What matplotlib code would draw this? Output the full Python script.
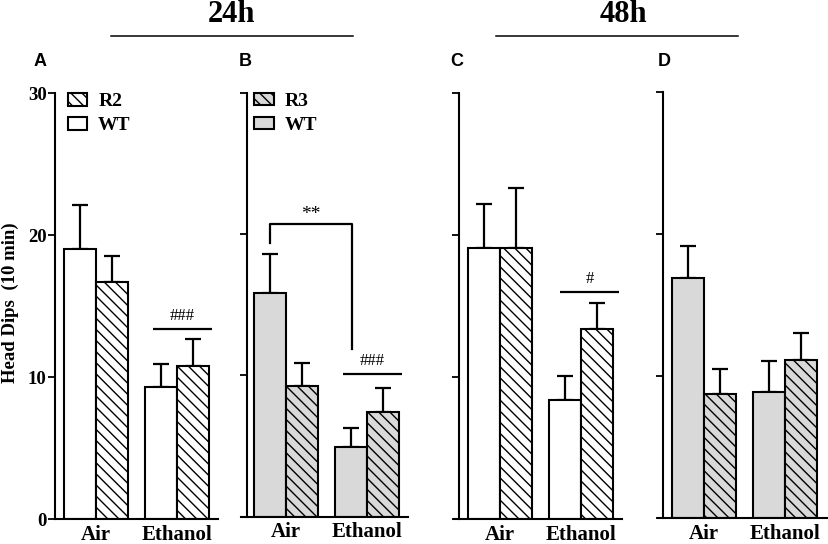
import matplotlib.pyplot as plt
from matplotlib.patches import Patch
from matplotlib.lines import Line2D

# values (head dips in 10 min, mean and upper SEM)
groups = ['Air', 'Ethanol']

a_wt = [19.0, 9.3]
a_wt_err = [3.1, 1.6]
a_r2 = [16.7, 10.8]
a_r2_err = [1.8, 1.85]

b_wt = [15.8, 4.9]
b_wt_err = [2.75, 1.4]
b_r3 = [9.25, 7.4]
b_r3_err = [1.65, 1.7]

c_wt = [19.1, 8.4]
c_wt_err = [3.1, 1.7]
c_r2 = [19.05, 13.4]
c_r2_err = [4.25, 1.8]

d_wt = [16.9, 8.85]
d_wt_err = [2.25, 2.2]
d_r3 = [8.75, 11.1]
d_r3_err = [1.75, 1.95]

# significance marks: label, bar height level
sig_a = ('###', 13.4)
sig_b = ('###', 10.1)
sig_b_star = ('**', 20.7)
sig_c = ('#', 16.0)

W, H = 829, 544
fig = plt.figure(figsize=(W / 100, H / 100), dpi=100)

serif = 'Liberation Serif'
sans = 'Liberation Sans'
grey = '#d9d9d9'
hatch = '\\\\\\'
plt.rcParams['hatch.linewidth'] = 1.0

sep = 81.0
bw = 0.4


def make_axes(x0, x1, yb, yt, xspine, xc):
    ax = fig.add_axes([x0 / W, 1 - yb / H, (x1 - x0) / W, (yb - yt) / H])
    ax.set_xlim((x0 - xc) / sep, (x1 - xc) / sep)
    ax.set_ylim(0, 30)
    ax.spines['top'].set_visible(False)
    ax.spines['right'].set_visible(False)
    ax.spines['left'].set_position(('data', (xspine - xc) / sep))
    for s in ['left', 'bottom']:
        ax.spines[s].set_linewidth(1.5)
    ax.set_yticks([0, 10, 20, 30])
    ax.tick_params(axis='y', length=5, width=1.3, direction='out')
    ax.set_xticks([0, 1])
    ax.set_xticklabels(groups, fontfamily=serif, fontweight='bold', fontsize=15)
    ax.tick_params(axis='x', length=0, pad=4)
    ax.patch.set_visible(False)
    return ax


def draw(ax, wt, wt_err, rr, rr_err, fc):
    xs = [0, 1]
    xl = [x - bw / 2 for x in xs]
    xr = [x + bw / 2 for x in xs]
    ax.errorbar(xl, wt, yerr=[[0, 0], wt_err], fmt='none', ecolor='black',
                elinewidth=1.6, capsize=6, capthick=1.6, zorder=1)
    ax.errorbar(xr, rr, yerr=[[0, 0], rr_err], fmt='none', ecolor='black',
                elinewidth=1.6, capsize=6, capthick=1.6, zorder=1)
    ax.bar(xl, wt, bw, color=fc, edgecolor='black', linewidth=1.5, zorder=2)
    ax.bar(xr, rr, bw, color=fc, edgecolor='black', linewidth=1.5,
           hatch=hatch, zorder=2)


def legend(ax, rname, fc):
    handles = [Patch(facecolor=fc, edgecolor='black', hatch=hatch, linewidth=1.5),
               Patch(facecolor=fc, edgecolor='black', linewidth=1.5)]
    ax.legend(handles, [rname, 'WT'], loc='upper left', bbox_to_anchor=(0.08, 1.0),
              frameon=False, prop={'family': serif, 'weight': 'bold', 'size': 14},
              handlelength=1.0, handleheight=0.62, handletextpad=0.55,
              labelspacing=0.35, borderpad=0, borderaxespad=0)


def sig(ax, x0, x1, level, text, size=12):
    ax.plot([x0, x1], [level, level], color='black', linewidth=1.6,
            solid_capstyle='butt', clip_on=False)
    ax.text((x0 + x1) / 2, level + 0.35, text, ha='center', va='bottom',
            fontfamily=serif, fontsize=size)


# panel A
ax_a = make_axes(55, 218, 519, 93, 55, 96)
draw(ax_a, a_wt, a_wt_err, a_r2, a_r2_err, 'white')
legend(ax_a, 'R2', 'white')
ax_a.set_yticklabels(['0', '10', '20', '30'], fontfamily=serif,
                     fontweight='bold', fontsize=13.5)
ax_a.tick_params(axis='y', pad=1)
sig(ax_a, 0.70, 1.43, sig_a[1], sig_a[0])

# panel B
ax_b = make_axes(241, 408, 516.5, 92.7, 247, 286)
draw(ax_b, b_wt, b_wt_err, b_r3, b_r3_err, grey)
legend(ax_b, 'R3', grey)
ax_b.set_yticklabels([])
sig(ax_b, 0.70, 1.43, sig_b[1], sig_b[0])
xl_b = -bw / 2
xr_b = 1 - bw / 2 + 0.02
ax_b.plot([xl_b, xl_b, xr_b, xr_b], [19.35, sig_b_star[1], sig_b_star[1], 11.85],
          color='black', linewidth=1.6, clip_on=False)
ax_b.text((xl_b + xr_b) / 2, sig_b_star[1] + 0.1, sig_b_star[0], ha='center',
          va='bottom', fontfamily=serif, fontsize=14)

# panel C
ax_c = make_axes(454, 622, 519, 93, 459, 500)
draw(ax_c, c_wt, c_wt_err, c_r2, c_r2_err, 'white')
ax_c.set_yticklabels([])
sig(ax_c, 0.74, 1.47, sig_c[1], sig_c[0])

# panel D
ax_d = make_axes(658, 829, 518, 92, 663, 704)
draw(ax_d, d_wt, d_wt_err, d_r3, d_r3_err, grey)
ax_d.set_yticklabels([])

# y label
fig.text(10 / W, 1 - 303 / H, 'Head Dips  (10 min)', rotation=90, ha='center',
         va='center', fontfamily=serif, fontweight='bold', fontsize=13.5)

# panel letters
for lab, px in [('A', 40), ('B', 245), ('C', 457), ('D', 664)]:
    fig.text(px / W, 1 - 62 / H, lab, ha='center', va='center',
             fontfamily=sans, fontweight='bold', fontsize=13)

# time headers
for lab, cx, lx0, lx1 in [('24h', 232, 111, 353), ('48h', 623, 496, 738)]:
    fig.text(cx / W, 1 - 14 / H, lab, ha='center', va='center',
             fontfamily=serif, fontweight='bold', fontsize=22)
    fig.add_artist(Line2D([lx0 / W, lx1 / W], [1 - 36 / H, 1 - 36 / H],
                          color='black', linewidth=1.1))

fig.savefig('out.png', dpi=100)
